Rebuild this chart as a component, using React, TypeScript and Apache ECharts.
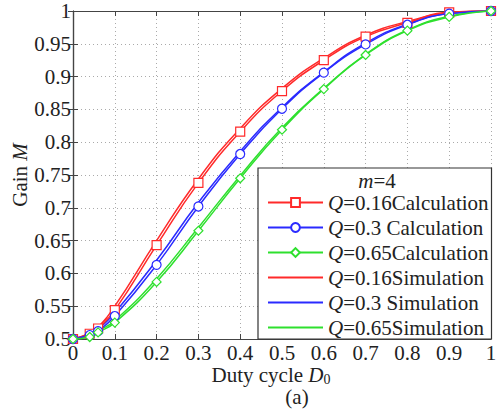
import React, { useEffect, useRef } from "react";
import * as echarts from "echarts";

const dutyCycle = [0, 0.04, 0.06, 0.1, 0.2, 0.3, 0.4, 0.5, 0.6, 0.7, 0.8, 0.9, 1.0];
const calcQ016 = [0.5, 0.508, 0.516, 0.544, 0.643, 0.738, 0.816, 0.878, 0.925, 0.961, 0.982, 0.998, 1];
const calcQ03 = [0.5, 0.506, 0.512, 0.535, 0.613, 0.702, 0.782, 0.851, 0.906, 0.949, 0.979, 0.996, 1];
const calcQ065 = [0.5, 0.503, 0.51, 0.525, 0.587, 0.665, 0.745, 0.819, 0.881, 0.933, 0.97, 0.991, 1];
const simQ016 = [0.5, 0.509, 0.518, 0.55, 0.65, 0.744, 0.821, 0.882, 0.928, 0.963, 0.984, 0.997, 1];
const simQ03 = [0.5, 0.507, 0.515, 0.54, 0.62, 0.708, 0.786, 0.853, 0.907, 0.951, 0.98, 0.996, 1];
const simQ065 = [0.5, 0.504, 0.512, 0.528, 0.592, 0.67, 0.749, 0.822, 0.882, 0.934, 0.971, 0.992, 1];

const seriesNames = [
  "Q=0.16Calculation",
  "Q=0.3 Calculation",
  "Q=0.65Calculation",
  "Q=0.16Simulation",
  "Q=0.3 Simulation",
  "Q=0.65Simulation",
];

const RED = "#ff2a2a";
const BLUE = "#2a2aff";
const GREEN = "#2ee02e";
const FONT = "Liberation Serif";
const FS = 21;

const pairs = (ys: number[]) => dutyCycle.map((x, i) => [x, ys[i]]);

export default function App() {
  const ref = useRef<HTMLDivElement>(null);
  useEffect(() => {
    if (!ref.current) return;
    document.body.style.margin = "0";
    const chart = echarts.init(ref.current, null, { renderer: "svg" });
    const calc = (name: string, data: number[], color: string, symbol: string) => ({
      name,
      type: "line",
      data: pairs(data),
      smooth: true,
      symbol,
      symbolSize: 9,
      showAllSymbol: true,
      clip: false,
      z: 3,
      lineStyle: { color, width: 1.5 },
      itemStyle: { color: "#fff", borderColor: color, borderWidth: 1.2 },
      color,
    });
    const sim = (name: string, data: number[], color: string) => ({
      name,
      type: "line",
      data: pairs(data),
      smooth: true,
      symbol: "none",
      clip: false,
      z: 2,
      lineStyle: { color, width: 1.5 },
      itemStyle: { color },
      color,
    });
    chart.setOption({
      animation: false,
      textStyle: { fontFamily: FONT },
      grid: { left: 73, right: 12, top: 11, bottom: 72 },
      xAxis: [
        {
          type: "value",
          min: 0,
          max: 1,
          interval: 0.1,
          axisLine: { lineStyle: { color: "#444", width: 1.2 } },
          axisTick: { inside: true, length: 5, lineStyle: { color: "#444" } },
          axisLabel: {
            color: "#222",
            fontSize: FS,
            fontFamily: FONT,
            margin: 3,
            showMaxLabel: true,
            showMinLabel: true,
          },
          splitLine: { show: true, lineStyle: { color: "#aaa", type: [1, 3], width: 1 } },
        },
        {
          type: "value",
          position: "top",
          min: 0,
          max: 1,
          interval: 0.1,
          axisLine: { lineStyle: { color: "#444", width: 1.2 } },
          axisTick: { inside: true, length: 5, lineStyle: { color: "#444" } },
          axisLabel: { show: false },
          splitLine: { show: false },
        },
      ],
      yAxis: [
        {
          type: "value",
          min: 0.5,
          max: 1,
          interval: 0.05,
          axisLine: { show: true, lineStyle: { color: "#444", width: 1.2 } },
          axisTick: { show: true, inside: true, length: 5, lineStyle: { color: "#444" } },
          axisLabel: { color: "#222", fontSize: FS, fontFamily: FONT, margin: 2 },
          splitLine: { show: true, lineStyle: { color: "#aaa", type: [1, 3], width: 1 } },
        },
        {
          type: "value",
          position: "right",
          min: 0.5,
          max: 1,
          interval: 0.05,
          axisLine: { show: true, lineStyle: { color: "#444", width: 1.2 } },
          axisTick: { show: true, inside: true, length: 5, lineStyle: { color: "#444" } },
          axisLabel: { show: false },
          splitLine: { show: false },
        },
      ],
      legend: {
        orient: "vertical",
        left: 267,
        top: 192,
        z: 60,
        itemWidth: 55,
        itemHeight: 11,
        itemGap: 4,
        padding: 0,
        data: seriesNames.map((n, i) =>
          i < 3 ? { name: n } : { name: n, itemStyle: { opacity: 0 } }
        ),
        formatter: (n: string) => `{i|Q}{t|${n.slice(1)}}`,
        textStyle: {
          color: "#222",
          fontFamily: FONT,
          fontSize: FS,
          lineHeight: 20,
          rich: {
            i: { fontStyle: "italic", fontFamily: FONT, fontSize: FS, color: "#222", lineHeight: 20 },
            t: { fontFamily: FONT, fontSize: FS, color: "#222", lineHeight: 20 },
          },
        },
      },
      graphic: [
        {
          type: "rect",
          z: 50,
          shape: { x: 258, y: 168, width: 233.5, height: 171 },
          style: { fill: "#fff", stroke: "#333", lineWidth: 1.2 },
        },
        {
          type: "text",
          z: 60,
          x: 377,
          y: 181,
          style: {
            text: "{i|m}{t|=4}",
            align: "center",
            verticalAlign: "middle",
            rich: {
              i: { fontStyle: "italic", fontFamily: FONT, fontSize: FS, fill: "#222", lineHeight: 20 },
              t: { fontFamily: FONT, fontSize: FS, fill: "#222", lineHeight: 20 },
            },
          },
        },
        {
          type: "text",
          x: 271,
          y: 375,
          style: {
            text: "{t|Duty cycle }{i|D}{s|0}",
            align: "center",
            verticalAlign: "middle",
            rich: {
              t: { fontFamily: FONT, fontSize: FS, fill: "#222" },
              i: { fontFamily: FONT, fontStyle: "italic", fontSize: FS, fill: "#222" },
              s: { fontFamily: FONT, fontSize: 14, fill: "#222", padding: [9, 0, 0, 0] },
            },
          },
        },
        {
          type: "text",
          x: 297,
          y: 397,
          style: {
            text: "(a)",
            align: "center",
            verticalAlign: "middle",
            fontFamily: FONT,
            fontSize: FS,
            fill: "#222",
          },
        },
        {
          type: "text",
          x: 20,
          y: 175,
          rotation: Math.PI / 2,
          style: {
            text: "{t|Gain }{i|M}",
            align: "center",
            verticalAlign: "middle",
            rich: {
              t: { fontFamily: FONT, fontSize: FS, fill: "#222" },
              i: { fontFamily: FONT, fontStyle: "italic", fontSize: FS, fill: "#222" },
            },
          },
        },
      ],
      series: [
        calc(seriesNames[0], calcQ016, RED, "rect"),
        calc(seriesNames[1], calcQ03, BLUE, "circle"),
        calc(seriesNames[2], calcQ065, GREEN, "diamond"),
        sim(seriesNames[3], simQ016, RED),
        sim(seriesNames[4], simQ03, BLUE),
        sim(seriesNames[5], simQ065, GREEN),
      ],
    });
    return () => chart.dispose();
  }, []);
  return <div ref={ref} style={{ width: 503, height: 411 }} />;
}
